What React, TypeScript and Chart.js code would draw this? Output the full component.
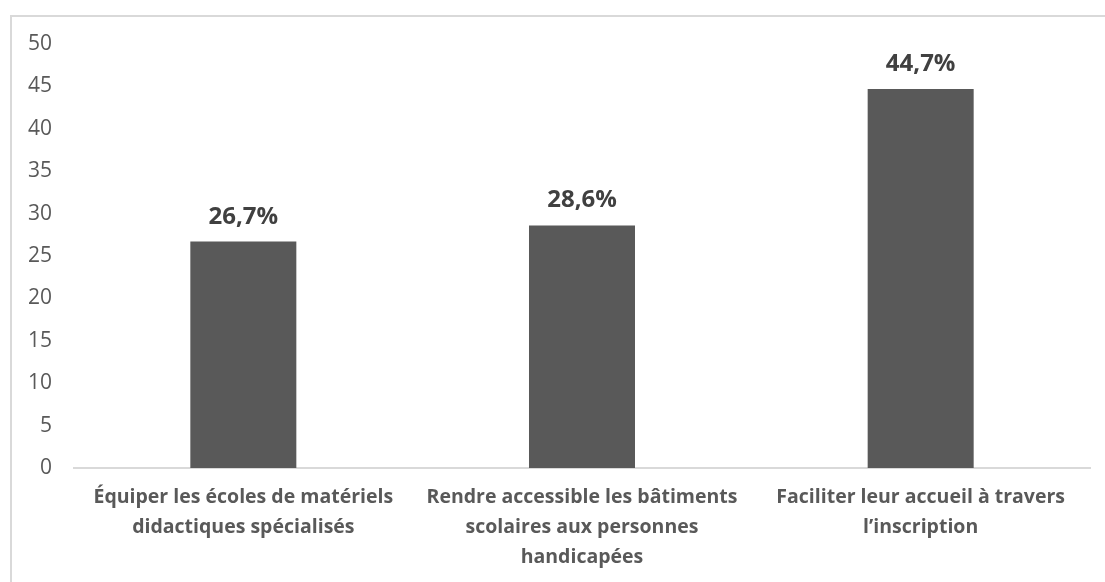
import React, { useEffect, useRef } from "react";
import { Chart, registerables } from "chart.js";

Chart.register(...registerables);

const categories: string[][] = [
  ["Équiper les écoles de matériels", "didactiques spécialisés"],
  ["Rendre accessible les bâtiments", "scolaires aux personnes", "handicapées"],
  ["Faciliter leur accueil à travers", "l’inscription"],
];
const values: number[] = [26.7, 28.6, 44.7];
const valueLabels: string[] = ["26,7%", "28,6%", "44,7%"];
const yMin = 0;
const yMax = 50;
const yStep = 5;

const FONT = "'Open Sans', 'Noto Sans', sans-serif";

const dataLabelPlugin = {
  id: "dataLabels",
  afterDatasetsDraw(chart: any) {
    const ctx = chart.ctx;
    const meta = chart.getDatasetMeta(0);
    ctx.save();
    ctx.font = `bold 24px ${FONT}`;
    ctx.fillStyle = "#404040";
    ctx.textAlign = "center";
    ctx.textBaseline = "alphabetic";
    meta.data.forEach((bar: any, i: number) => {
      ctx.fillText(valueLabels[i], bar.x, bar.y - 18);
    });
    ctx.restore();
  },
};

export default function App() {
  const ref = useRef<HTMLCanvasElement>(null);
  useEffect(() => {
    document.body.style.margin = "0";
    const chart = new Chart(ref.current!, {
      type: "bar",
      data: {
        labels: categories,
        datasets: [
          {
            data: values,
            backgroundColor: "#595959",
            borderWidth: 0,
            categoryPercentage: 1,
            barPercentage: 0.313,
          },
        ],
      },
      options: {
        animation: false,
        responsive: false,
        maintainAspectRatio: false,
        layout: { padding: { left: 0, right: 15, top: 44, bottom: 0 } },
        plugins: { legend: { display: false }, tooltip: { enabled: false } },
        scales: {
          x: {
            grid: { display: false, drawTicks: false },
            border: { display: true, color: "#d9d9d9", width: 2 },
            ticks: {
              color: "#595959",
              font: { family: FONT, size: 19.5, weight: "bold", lineHeight: "30px" } as any,
              padding: 14,
              maxRotation: 0,
              autoSkip: false,
            },
            afterFit(scale: any) {
              scale.height = 114;
            },
          },
          y: {
            min: yMin,
            max: yMax,
            grid: { display: false, drawTicks: false },
            border: { display: false },
            ticks: {
              stepSize: yStep,
              color: "#595959",
              font: { family: FONT, size: 21 },
              padding: 22,
            },
            afterFit(scale: any) {
              scale.width = 74;
            },
          },
        },
      },
      plugins: [dataLabelPlugin],
    });
    return () => chart.destroy();
  }, []);
  return (
    <div style={{ position: "relative", width: 1105, height: 582, overflow: "hidden", background: "#fff" }}>
      <div
        style={{
          position: "absolute",
          left: 10,
          top: 15,
          width: 1200,
          height: 700,
          border: "2px solid #d9d9d9",
          boxSizing: "border-box",
        }}
      />
      <canvas ref={ref} width={1105} height={582} style={{ position: "absolute", left: 0, top: 0 }} />
    </div>
  );
}
